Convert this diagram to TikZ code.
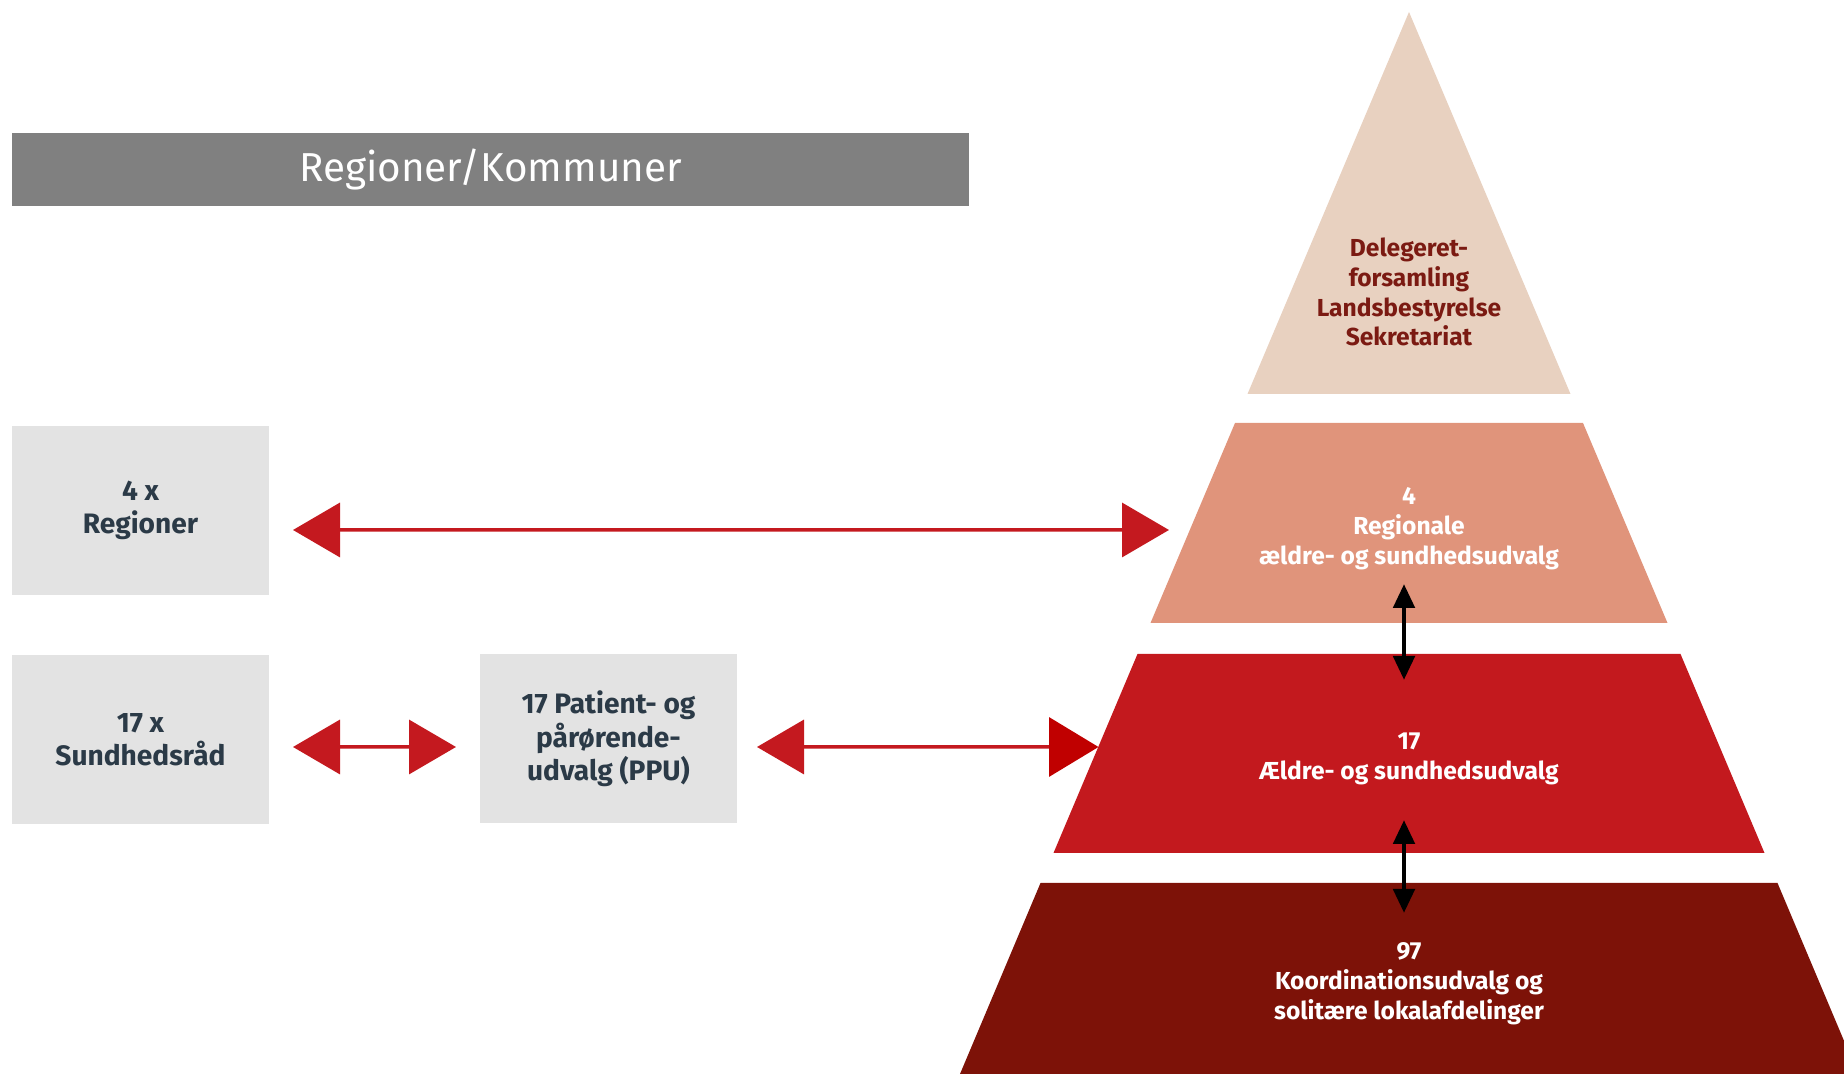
\documentclass[tikz,border=0pt]{standalone}
\usepackage{fontspec}
\setmainfont{Fira Sans}
\usepackage{xcolor}
\usepackage{tikz}
\usetikzlibrary{arrows.meta}

\definecolor{titlegray}{HTML}{808080}
\definecolor{boxgray}{HTML}{E3E3E3}
\definecolor{boxtext}{HTML}{2B3A47}
\definecolor{toplayer}{HTML}{E8D1C0}
\definecolor{toptext}{HTML}{7B1A12}
\definecolor{regionlayer}{HTML}{E0947B}
\definecolor{redlayer}{HTML}{C3191E}
\definecolor{darklayer}{HTML}{7D1208}
\definecolor{arrowred}{HTML}{C4191F}
\definecolor{tipred}{HTML}{C00000}

\begin{document}
\begin{tikzpicture}[
    box/.style={rectangle, fill=boxgray, minimum width=5.14cm, minimum height=3.38cm, inner sep=0pt, outer sep=0pt, align=center, text=boxtext, font=\fontsize{16}{19}\selectfont\bfseries},
    layer/.style={rectangle, inner sep=0pt, outer sep=0pt, align=center, text=white, font=\fontsize{14}{17}\selectfont\bfseries},
    redarrow/.style={{Triangle[length=0.94cm, width=1.08cm]}-{Triangle[length=0.94cm, width=1.08cm]}, line width=2pt, arrowred},
    blackarrow/.style={{Triangle[length=0.48cm, width=0.42cm]}-{Triangle[length=0.48cm, width=0.42cm]}, line width=2.8pt, black}
]

\useasboundingbox (0,0) rectangle (36.88,21.48);
\clip (0,0) rectangle (36.88,21.48);

% Titel
\node[fill=titlegray, minimum width=19.14cm, minimum height=1.46cm, inner sep=0pt, text=white, font=\fontsize{23}{28}\selectfont] (title) at (9.81,18.09) {Regioner/Kommuner};

% Venstre kasser
\node[box] (regioner) at (2.81,11.27) {4 x\\Regioner};
\node[box] (sundhed) at (2.81,6.68) {17 x\\Sundhedsråd};
\node[box] (ppu) at (12.17,6.70) {17 Patient- og\\pårørende-\\udvalg (PPU)};

% Pyramide
\fill[toplayer] (28.18,21.24) -- (31.41,13.60) -- (24.95,13.60) -- cycle;
\fill[regionlayer] (24.70,13.02) -- (31.66,13.02) -- (33.35,9.02) -- (23.01,9.02) -- cycle;
\fill[redlayer] (22.75,8.40) -- (33.61,8.40) -- (35.29,4.42) -- (21.07,4.42) -- cycle;
\fill[darklayer] (20.81,3.82) -- (35.55,3.82) -- (37.16,0) -- (19.20,0) -- cycle;

\node[align=center, text=toptext, font=\fontsize{14}{17}\selectfont\bfseries] (delegeret) at (28.18,15.64) {Delegeret-\\forsamling\\Landsbestyrelse\\Sekretariat};
\node[layer, minimum width=8.64cm, minimum height=4.00cm] (regional) at (28.18,10.90) {4\\Regionale\\ældre- og sundhedsudvalg};
\node[layer, minimum width=12.54cm, minimum height=3.98cm] (aeldre) at (28.18,6.30) {17\\Ældre- og sundhedsudvalg};
\node[layer, minimum width=16.35cm, minimum height=3.82cm] (koord) at (28.18,1.80) {97\\Koordinationsudvalg og\\solitære lokalafdelinger};

% Pile mellem niveauer
\draw[redarrow] ([xshift=4.8mm, yshift=-3.9mm]regioner.east) -- ([xshift=-4.8mm, yshift=-0.2mm]regional.west);
\draw[redarrow] ([xshift=4.8mm, yshift=-1.4mm]sundhed.east) -- ([xshift=-4.8mm, yshift=-1.6mm]ppu.west);
\draw[redarrow, {Triangle[length=0.94cm, width=1.08cm]}-{Triangle[length=0.99cm, width=1.18cm, color=tipred]}] ([xshift=4mm, yshift=-1.6mm]ppu.east) -- ([xshift=0.6mm, yshift=2.4mm]aeldre.west);

\draw[blackarrow] ([xshift=-1mm, yshift=9mm]regional.south) -- ([xshift=-1mm, yshift=-4.1mm]aeldre.north);
\draw[blackarrow] ([xshift=-1mm, yshift=7.7mm]aeldre.south) -- ([xshift=-1mm, yshift=-4.9mm]koord.north);

\end{tikzpicture}
\end{document}
